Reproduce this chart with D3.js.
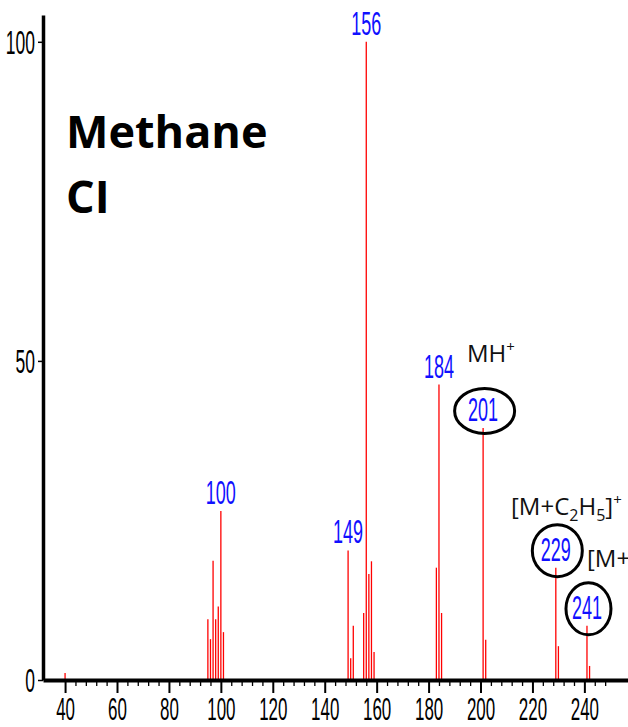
<!DOCTYPE html>
<html>
<head>
<meta charset="utf-8">
<script src="https://cdn.jsdelivr.net/npm/d3@7"></script>
<style>
  body { margin: 0; background: #fff; }
  svg { display: block; }
</style>
</head>
<body>
<div id="grafico"></div>
<script>
const width = 628
const height = 727

// peak list (m/z, relative intensity %)
const masses      = [40, 95, 96, 97, 98, 99, 100, 101, 149, 150, 151, 155, 156, 157, 158, 159, 183, 184, 185, 201, 202, 229, 230, 241, 242]
const intensities = [1.1, 9.5, 6.4, 18.7, 9.5, 11.5, 26.5, 7.5, 20.3, 3.4, 8.5, 10.5, 100, 16.6, 18.6, 4.4, 17.6, 46.3, 10.5, 39.5, 6.3, 17.6, 5.3, 8.5, 2.2]
const labelled    = [100, 149, 156, 184, 201, 229, 241]
const circled     = [201, 229, 241]
const xTicks      = d3.range(40, 249, 4)
const yTicks      = [0, 50, 100]

const peaks = masses.map((m, i) => ({ m: m, v: intensities[i] }))

const svg = d3.select('#grafico').append('svg')
              .attr('width', width)
              .attr('height', height)

const x = d3.scaleLinear().domain([31.5, 256.8]).range([43, 628])
const y = d3.scaleLinear().domain([0, 104.2]).range([680, 15])

const narrow = 'scale(0.53,1)'
const numFont = '"Liberation Sans", Arial, sans-serif'

// peaks
svg.append('g').selectAll('line')
   .data(peaks)
   .enter()
   .append('line')
   .attr('x1', d => x(d.m))
   .attr('x2', d => x(d.m))
   .attr('y1', y(0))
   .attr('y2', d => y(d.v))
   .attr('stroke', '#ff0000')
   .attr('stroke-width', 1.3)

// x axis
const xAxis = svg.append('g')
                 .attr('transform', `translate(0, ${y(0)})`)
                 .call(d3.axisBottom(x)
                         .tickValues(xTicks)
                         .tickSizeInner(6)
                         .tickSizeOuter(0)
                         .tickFormat(d => d % 20 === 0 ? d : ''))
xAxis.select('.domain').attr('stroke-width', 4).attr('stroke', '#000')
xAxis.selectAll('.tick line')
     .attr('stroke', '#000')
     .attr('stroke-width', d => d % 20 === 0 ? 2 : 1.3)
     .attr('y2', d => d % 20 === 0 ? 13 : 6)
xAxis.selectAll('.tick text')
     .attr('y', 40)
     .attr('dy', null)
     .attr('transform', narrow)
     .style('font-family', numFont)
     .style('font-size', '32px')
     .attr('fill', '#000')

// y axis
const yAxis = svg.append('g')
                 .attr('transform', `translate(${x(31.5)}, 0)`)
                 .call(d3.axisLeft(y)
                         .tickValues(yTicks)
                         .tickSizeInner(5)
                         .tickSizeOuter(0))
yAxis.select('.domain').attr('stroke-width', 3.5).attr('stroke', '#000')
yAxis.selectAll('.tick line').attr('stroke', '#000').attr('stroke-width', 1.5)
yAxis.selectAll('.tick text')
     .attr('x', -8 / 0.53)
     .attr('dy', '0.36em')
     .attr('transform', narrow)
     .style('font-family', numFont)
     .style('font-size', '33px')
     .attr('fill', '#000')

// blue peak labels
const lab = peaks.filter(d => labelled.includes(d.m))
svg.append('g').selectAll('text')
   .data(lab)
   .enter()
   .append('text')
   .attr('transform', d => `translate(${x(d.m)}, ${y(d.v) - 7}) ${narrow}`)
   .attr('text-anchor', 'middle')
   .style('font-family', numFont)
   .style('font-size', '34px')
   .attr('fill', '#1010ff')
   .text(d => d.m)

// circles round the molecular ion peaks
const ringSize = { 201: [30, 22.5], 229: [25, 26], 241: [22.5, 26] }
svg.append('g').selectAll('ellipse')
   .data(lab.filter(d => circled.includes(d.m)))
   .enter()
   .append('ellipse')
   .attr('cx', d => x(d.m) + 1.5)
   .attr('cy', d => y(d.v) - 17)
   .attr('rx', d => ringSize[d.m][0])
   .attr('ry', d => ringSize[d.m][1])
   .attr('fill', 'none')
   .attr('stroke', '#000')
   .attr('stroke-width', 3)

// title
const title = svg.append('text')
                 .style('font-family', '"Open Sans", sans-serif')
                 .style('font-weight', 'bold')
                 .style('font-size', '45px')
                 .attr('fill', '#000')
title.append('tspan').attr('x', 66).attr('y', 148).text('Methane')
title.append('tspan').attr('x', 66).attr('y', 213).text('CI')

// ion annotations
function ion(xp, yp, parts) {
    const t = svg.append('text')
                 .attr('x', xp)
                 .attr('y', yp)
                 .style('font-family', '"Open Sans", sans-serif')
                 .style('font-size', '24px')
                 .attr('fill', '#111')
    parts.forEach(p => {
        const s = t.append('tspan').text(p[0])
        if (p[1] === 'sub') s.attr('dy', 6).style('font-size', '16px')
        if (p[1] === 'sup') s.attr('dy', -10).style('font-size', '15px')
        if (p[2]) s.attr('dy', p[2])
    })
}
ion(467, 362, [['MH'], ['+', 'sup']])
ion(511, 515, [['[M+C'], ['2', 'sub'], ['H', null, -6], ['5', 'sub'], [']', null, -6], ['+', 'sup']])
ion(587, 567, [['[M+C'], ['3', 'sub'], ['H', null, -6], ['5', 'sub'], [']', null, -6], ['+', 'sup']])
</script>
</body>
</html>
